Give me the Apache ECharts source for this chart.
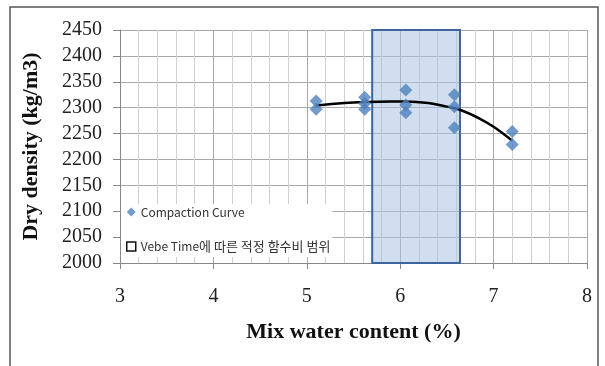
<!DOCTYPE html>
<html><head><meta charset="utf-8">
<script src="https://cdn.jsdelivr.net/npm/echarts@6/dist/echarts.min.js"></script>
<style>html,body{margin:0;padding:0;background:#fff}#c{width:605px;height:366px}</style>
</head><body><div id="c"></div>
<script>
const pointsX = [5.1, 5.1, 5.62, 5.62, 5.62, 6.06, 6.06, 6.06, 6.58, 6.58, 6.58, 7.2, 7.2];
const pointsY = [2313, 2297, 2320, 2308, 2297, 2334, 2305, 2290, 2325, 2302, 2261, 2254, 2229];
const curveX = [5.1, 5.4, 5.62, 5.9, 6.06, 6.3, 6.5, 6.64, 6.85, 7.0, 7.2];
const curveY = [2304, 2309, 2311, 2312, 2312, 2309, 2302, 2296, 2279, 2263, 2236];
const rangeX = [5.7, 6.64];
const rangeY = [2000, 2450];
const xTicks = [3, 4, 5, 6, 7, 8];
const yTicks = [2000, 2050, 2100, 2150, 2200, 2250, 2300, 2350, 2400, 2450];
const seriesNames = ['Compaction Curve', 'Vebe Time에 따른 적정 함수비 범위'];

const chart = echarts.init(document.getElementById('c'));
const serif = '"Liberation Serif","Times New Roman",serif';
const cjk = '"Noto Sans CJK KR","Noto Sans",sans-serif';
chart.setOption({
  animation: false,
  graphic: [{type:'rect', shape:{x:10, y:7, width:588, height:380}, style:{fill:'none', stroke:'#555', lineWidth:1.5}, z:-1}],
  grid: {left:120, right:18, top:30, bottom:103},
  xAxis: {
    type:'value', min:xTicks[0], max:xTicks[xTicks.length-1], interval:1,
    name:'Mix water content (%)', nameLocation:'middle', nameGap:58,
    nameTextStyle:{fontFamily:serif, fontWeight:'bold', fontSize:22, color:'#111'},
    axisLabel:{fontFamily:serif, fontSize:20, color:'#222', margin:24},
    axisLine:{lineStyle:{color:'#888'}},
    axisTick:{show:true, length:6, lineStyle:{color:'#888'}},
    minorTick:{show:false, splitNumber:5},
    splitLine:{show:true, lineStyle:{color:'#a8a8a8'}},
    minorSplitLine:{show:true, lineStyle:{color:'#d0d0d0'}}
  },
  yAxis: {
    type:'value', min:yTicks[0], max:yTicks[yTicks.length-1], interval:50,
    name:'Dry density (kg/m3)', nameLocation:'middle', nameGap:78, nameRotate:90,
    nameTextStyle:{fontFamily:serif, fontWeight:'bold', fontSize:22, color:'#111'},
    axisLabel:{fontFamily:serif, fontSize:20, color:'#222', margin:18, formatter:v=>String(v)},
    axisLine:{show:true, lineStyle:{color:'#888'}},
    axisTick:{show:true, length:7, lineStyle:{color:'#888'}},
    splitLine:{show:true, lineStyle:{color:'#a8a8a8'}}
  },
  legend: {
    orient:'vertical', left:121, top:204, backgroundColor:'#fff',
    padding:[2, 2, 4, 5], itemGap:22, itemWidth:9, itemHeight:9,
    formatter:function(name){
      const i = name.search(/[\uAC00-\uD7A3]/);
      return i < 0 ? '{l|' + name + '}' : '{l|' + name.slice(0,i) + '}{k|' + name.slice(i) + '}';
    },
    textStyle:{fontFamily:cjk, fontSize:12, color:'#333',
      rich:{l:{fontFamily:cjk, fontSize:12, color:'#333'},
            k:{fontFamily:cjk, fontSize:13, color:'#333'}}},
    data:[
      {name:seriesNames[0], icon:'diamond'},
      {name:seriesNames[1], icon:'rect', itemStyle:{color:'#fff', borderColor:'#111', borderWidth:1.5}}
    ]
  },
  series: [
    {
      name:seriesNames[1], type:'custom', z:2,
      data:[[rangeX[0], rangeX[1], rangeY[0], rangeY[1]]],
      itemStyle:{color:'#fff', borderColor:'#111'},
      renderItem:function(params, api){
        const p0 = api.coord([api.value(0), api.value(3)]);
        const p1 = api.coord([api.value(1), api.value(2)]);
        return {type:'rect', shape:{x:p0[0], y:p0[1], width:p1[0]-p0[0], height:p1[1]-p0[1]},
          style:{fill:'rgba(170,195,225,0.55)', stroke:'#3d649c', lineWidth:2}};
      }
    },
    {
      name:'trend', type:'line', smooth:0.4, showSymbol:false, z:4,
      data:curveX.map((x,i)=>[x, curveY[i]]),
      lineStyle:{color:'#000', width:2.5}
    },
    {
      name:seriesNames[0], type:'scatter', symbol:'diamond', symbolSize:13, z:5,
      data:pointsX.map((x,i)=>[x, pointsY[i]]),
      itemStyle:{color:'#4f81bd'}
    }
  ]
});
</script></body></html>
